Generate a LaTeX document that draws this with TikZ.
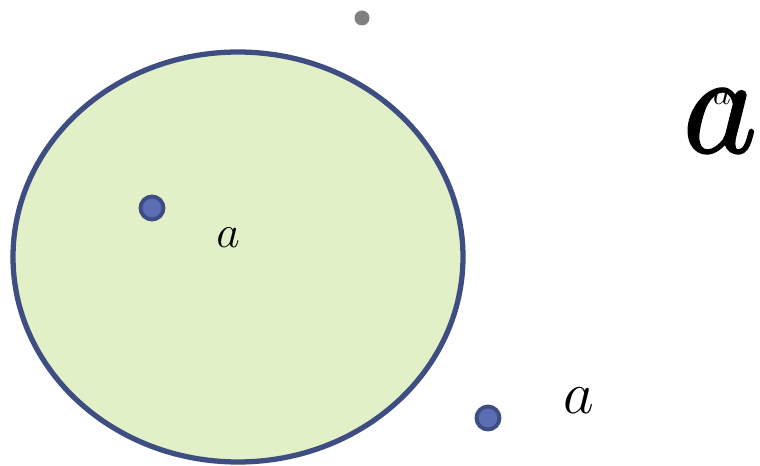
\documentclass[tikz,border=0pt]{standalone}
\usepackage{fix-cm}
\usepackage{xcolor}
\usepackage{tikz}
\usetikzlibrary{positioning, shapes.geometric}
\definecolor{setfill}{HTML}{E2F0C8}
\definecolor{setborder}{HTML}{3F4E82}
\definecolor{ptfill}{HTML}{5B6DB3}
\definecolor{ptgray}{HTML}{808080}

\tikzset{
  pt/.style={circle, fill=ptfill, draw=setborder, line width=2.2pt,
             minimum size=0.46cm, inner sep=0pt},
  lbl/.style={inner sep=0pt}
}

\begin{document}
\begin{tikzpicture}
    \useasboundingbox (0,0) rectangle (15.2,9.32);
    \node[ellipse, draw=setborder, fill=setfill, line width=3pt,
          minimum width=9cm, minimum height=8.2cm, inner sep=0pt] (set) at (4.76,4.18) {};
    \node[pt] (inner) at (3.04,5.16) {};
    \node[pt] (outer) at (9.76,0.96) {};
    \node[circle, fill=ptgray, minimum size=0.3cm, inner sep=0pt] (top) at (7.24,8.96) {};
    \node[lbl] (setlbl) at (4.56,4.56) {\fontsize{26}{30}\selectfont $a$};
    \node[lbl] (outlbl) at (11.58,1.30) {\fontsize{34}{40}\selectfont $a$};
    \node[lbl] (biglbl) at (14.40,6.90) {\special{pdf:literal direct 2 Tr 1.4 w}\fontsize{82}{90}\selectfont $a$\special{pdf:literal direct 0 Tr}};
    \node[lbl] (suplbl) at (14.44,7.38) {\fontsize{20}{24}\selectfont $a$};
  \end{tikzpicture}
\end{document}
